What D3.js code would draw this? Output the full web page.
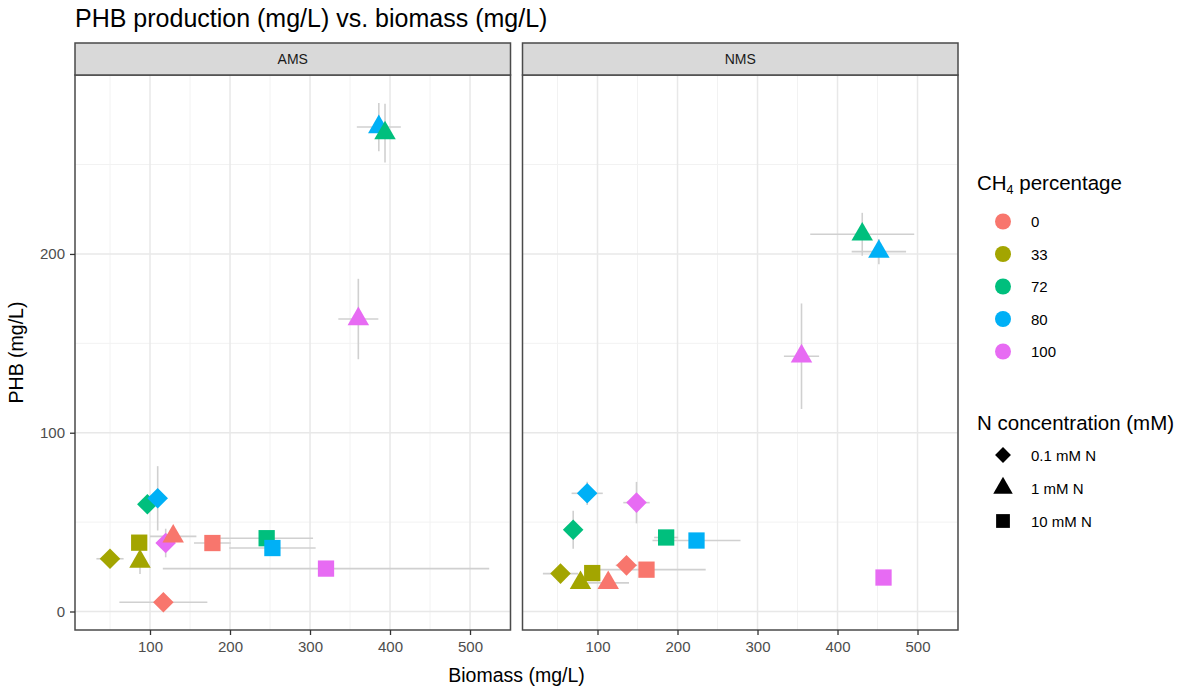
<!DOCTYPE html>
<html><head><meta charset="utf-8">
<script src="https://cdn.jsdelivr.net/npm/d3@7"></script>
<style>
body{margin:0;background:#fff}
svg{display:block}
text{font-family:"Liberation Sans",Arial,sans-serif}
</style>
</head><body>
<svg id="c" width="1191" height="688"></svg>
<script>
// ---------- data ----------
const panels = ["AMS", "NMS"];
const ch4Levels = ["0", "33", "72", "80", "100"];
const ch4Colors = ["#F8766D", "#A3A500", "#00BF7D", "#00B0F6", "#E76BF3"];
const nLevels = ["0.1 mM N", "1 mM N", "10 mM N"];
const xTicks = [100, 200, 300, 400, 500];
const yTicks = [0, 100, 200];
const xMinor = [50, 150, 250, 350, 450, 550];
const yMinor = [50, 150, 250];
const xDomain = [6.25, 550.6];
const yDomain = [-10.35, 300.1];

const panel = ["AMS","AMS","AMS","AMS","AMS","AMS","AMS","AMS","AMS","AMS","AMS","AMS","AMS","AMS","AMS",
               "NMS","NMS","NMS","NMS","NMS","NMS","NMS","NMS","NMS","NMS","NMS","NMS","NMS","NMS","NMS"];
const ch4 = ["0","33","72","80","100", "0","33","72","80","100", "0","33","100","80","72",
             "0","33","72","80","100", "0","33","72","80","100", "0","33","100","72","80"];
const nConc = ["0.1 mM N","0.1 mM N","0.1 mM N","0.1 mM N","0.1 mM N",
               "10 mM N","10 mM N","10 mM N","10 mM N","10 mM N",
               "1 mM N","1 mM N","1 mM N","1 mM N","1 mM N",
               "0.1 mM N","0.1 mM N","0.1 mM N","0.1 mM N","0.1 mM N",
               "10 mM N","10 mM N","10 mM N","10 mM N","10 mM N",
               "1 mM N","1 mM N","1 mM N","1 mM N","1 mM N"];
const biomass   = [116.7, 50, 96.7, 109.6, 119.6,  178, 86.5, 245.8, 253, 320,  129, 87.5, 360.4, 386, 393.75,
                   136.25, 53.75, 69.6, 87.1, 148.75,  161.25, 93.4, 185.8, 223.75, 457.5,  113.4, 78.75, 355, 430.9, 451.7];
const biomassSD = [55, 17, 3, 3, 3,  23, 3, 58, 54, 204,  29, 3, 25, 27.5, 2,
                   13.5, 22, 2, 19.5, 16.5,  74, 3, 15, 55, 3,  26, 3, 22, 65, 34];
const phb       = [5.2, 29.5, 60, 63.3, 38.3,  38.3, 38.5, 41, 35.5, 24,  42, 28, 163.6, 271, 267.6,
                   25.8, 21.2, 45.7, 66.1, 60.9,  23.4, 21.5, 41.4, 39.7, 19,  16, 16, 142.8, 211, 201.3];
const phbSD     = [0.5, 1.5, 2, 18, 8,  1, 2, 2, 1, 1,  2, 7, 22.5, 13.5, 16.4,
                   2, 1, 10.6, 6.5, 11.6,  1, 1, 2, 1, 1,  1, 1, 29.5, 12, 7];

const rows = panel.map((p, i) => ({panel: p, ch4: ch4[i], n: nConc[i], x: biomass[i], xsd: biomassSD[i], y: phb[i], ysd: phbSD[i]}));

// ---------- layout ----------
const svg = d3.select("#c");
const panelX = {AMS: [75, 510.5], NMS: [522.5, 958]};
const yTop = 75, yBot = 630, stripTop = 43;
const xs = {};
panels.forEach(p => xs[p] = d3.scaleLinear().domain(xDomain).range(panelX[p]));
const y = d3.scaleLinear().domain(yDomain).range([yBot, yTop]);
const color = d3.scaleOrdinal().domain(ch4Levels).range(ch4Colors);
const symType = d3.scaleOrdinal().domain(nLevels).range([d3.symbolDiamond2, d3.symbolTriangle, d3.symbolSquare]);
const symSize = d3.scaleOrdinal().domain(nLevels).range([270, 200, 265]);
const legSize = d3.scaleOrdinal().domain(nLevels).range([160, 165, 190]);

svg.append("rect").attr("width", 1191).attr("height", 688).attr("fill", "#fff");

// title
svg.append("text").attr("x", 75).attr("y", 27).attr("font-size", 25).attr("fill", "#000")
  .text("PHB production (mg/L) vs. biomass (mg/L)");

panels.forEach(p => {
  const x = xs[p];
  const [x0, x1] = panelX[p];
  const g = svg.append("g");
  g.append("rect").attr("x", x0).attr("y", yTop).attr("width", x1 - x0).attr("height", yBot - yTop).attr("fill", "#fff");
  // minor grid
  g.selectAll(".mx").data(xMinor.filter(v => v >= xDomain[0] && v <= xDomain[1])).join("line")
    .attr("x1", d => x(d)).attr("x2", d => x(d)).attr("y1", yTop).attr("y2", yBot)
    .attr("stroke", "#f2f2f2").attr("stroke-width", 1);
  g.selectAll(".my").data(yMinor).join("line")
    .attr("x1", x0).attr("x2", x1).attr("y1", d => y(d)).attr("y2", d => y(d))
    .attr("stroke", "#f2f2f2").attr("stroke-width", 1);
  // major grid
  g.selectAll(".Mx").data(xTicks).join("line")
    .attr("x1", d => x(d)).attr("x2", d => x(d)).attr("y1", yTop).attr("y2", yBot)
    .attr("stroke", "#e8e8e8").attr("stroke-width", 1.5);
  g.selectAll(".My").data(yTicks).join("line")
    .attr("x1", x0).attr("x2", x1).attr("y1", d => y(d)).attr("y2", d => y(d))
    .attr("stroke", "#e8e8e8").attr("stroke-width", 1.5);

  const pr = rows.filter(r => r.panel === p);
  // error bars
  g.selectAll(".eh").data(pr).join("line")
    .attr("x1", d => x(d.x - d.xsd)).attr("x2", d => x(d.x + d.xsd))
    .attr("y1", d => y(d.y)).attr("y2", d => y(d.y))
    .attr("stroke", "#d0d0d0").attr("stroke-width", 1.6);
  g.selectAll(".ev").data(pr).join("line")
    .attr("x1", d => x(d.x)).attr("x2", d => x(d.x))
    .attr("y1", d => y(d.y - d.ysd)).attr("y2", d => y(d.y + d.ysd))
    .attr("stroke", "#d0d0d0").attr("stroke-width", 1.6);
  // points
  g.selectAll(".pt").data(pr).join("path")
    .attr("transform", d => `translate(${x(d.x)},${y(d.y)})`)
    .attr("d", d => d3.symbol().type(symType(d.n)).size(symSize(d.n))())
    .attr("fill", d => color(d.ch4));

  // panel border
  g.append("rect").attr("x", x0).attr("y", yTop).attr("width", x1 - x0).attr("height", yBot - yTop)
    .attr("fill", "none").attr("stroke", "#4a4a4a").attr("stroke-width", 1.5);
  // strip
  g.append("rect").attr("x", x0).attr("y", stripTop).attr("width", x1 - x0).attr("height", yTop - stripTop)
    .attr("fill", "#d9d9d9").attr("stroke", "#4a4a4a").attr("stroke-width", 1.5);
  g.append("text").attr("x", (x0 + x1) / 2).attr("y", (stripTop + yTop) / 2 + 5).attr("text-anchor", "middle")
    .attr("font-size", 14).attr("fill", "#1a1a1a").text(p);

  // x axis
  const ax = svg.append("g").attr("transform", `translate(0,${yBot})`)
    .call(d3.axisBottom(x).tickValues(xTicks).tickSize(5).tickPadding(6).tickFormat(d3.format("d")));
  ax.select(".domain").remove();
  ax.selectAll(".tick line").attr("stroke", "#333").attr("stroke-width", 1.3);
  ax.selectAll(".tick text").attr("font-size", 15).attr("fill", "#4d4d4d")
    .attr("font-family", "'Liberation Sans', Arial, sans-serif");
});

// y axis
const ay = svg.append("g").attr("transform", `translate(${panelX.AMS[0]},0)`)
  .call(d3.axisLeft(y).tickValues(yTicks).tickSize(5).tickPadding(5).tickFormat(d3.format("d")));
ay.select(".domain").remove();
ay.selectAll(".tick line").attr("stroke", "#333").attr("stroke-width", 1.3);
ay.selectAll(".tick text").attr("font-size", 15).attr("fill", "#4d4d4d")
  .attr("font-family", "'Liberation Sans', Arial, sans-serif");

// axis titles
svg.append("text").attr("x", (panelX.AMS[0] + panelX.NMS[1]) / 2).attr("y", 682).attr("text-anchor", "middle")
  .attr("font-size", 19.5).attr("fill", "#000").text("Biomass (mg/L)");
svg.append("text").attr("transform", `translate(23,${(yTop + yBot) / 2}) rotate(-90)`).attr("text-anchor", "middle")
  .attr("font-size", 19.5).attr("fill", "#000").text("PHB (mg/L)");

// legends
const lx = 977, keyX = 1003, labX = 1031;
const t1 = svg.append("text").attr("x", lx).attr("y", 190).attr("font-size", 20.5).attr("fill", "#000");
t1.append("tspan").text("CH");
t1.append("tspan").attr("font-size", 12.5).attr("dy", 4).text("4");
t1.append("tspan").attr("dy", -4).text(" percentage");
const lg1 = svg.append("g");
ch4Levels.forEach((c, i) => {
  const yy = 221.5 + i * 32.5;
  lg1.append("circle").attr("cx", keyX).attr("cy", yy).attr("r", 8).attr("fill", color(c));
  lg1.append("text").attr("x", labX).attr("y", yy + 5.5).attr("font-size", 15).attr("fill", "#000").text(c);
});
svg.append("text").attr("x", lx).attr("y", 430).attr("font-size", 20.5).attr("fill", "#000").text("N concentration (mM)");
const lg2 = svg.append("g");
nLevels.forEach((n, i) => {
  const yy = 455 + i * 33;
  lg2.append("path").attr("transform", `translate(${keyX},${yy})`)
    .attr("d", d3.symbol().type(symType(n)).size(legSize(n))()).attr("fill", "#000");
  lg2.append("text").attr("x", labX).attr("y", yy + 5.5).attr("font-size", 15).attr("fill", "#000").text(n);
});
</script>
</body></html>
